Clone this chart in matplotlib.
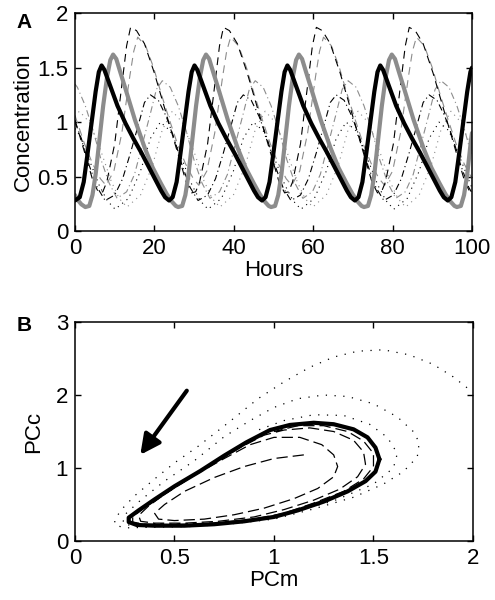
import matplotlib
matplotlib.use('Agg')
import matplotlib.pyplot as plt

plt.rcParams['font.family'] = ['Liberation Sans', 'DejaVu Sans']

# ---------------- Panel A: time courses ----------------
# thick black curve
t_black = [0, 1.2, 2.2, 3.2, 4.2, 5.2, 6.0, 6.7, 7.4, 8.2, 9.2, 10.7, 12.7, 14.7, 16.7, 18.7, 20.7, 21.7, 22.7, 23.7,
           24.6, 25.6, 26.6, 27.6, 28.6, 29.4, 30.1, 30.8, 31.6, 32.6, 34.1, 36.1, 38.1, 40.1, 42.1, 44.1, 45.1, 46.1, 47.1,
           48.0, 49.0, 50.0, 51.0, 52.0, 52.8, 53.5, 54.2, 55.0, 56.0, 57.5, 59.5, 61.5, 63.5, 65.5, 67.5, 68.5, 69.5, 70.5,
           71.4, 72.4, 73.4, 74.4, 75.4, 76.2, 76.9, 77.6, 78.4, 79.4, 80.9, 82.9, 84.9, 86.9, 88.9, 90.9, 91.9, 92.9, 93.9,
           94.8, 95.8, 96.8, 97.8, 98.8, 99.6, 100]
c_black = [0.28, 0.31, 0.45, 0.72, 1.0, 1.28, 1.46, 1.52, 1.48, 1.4, 1.3, 1.15, 0.99, 0.85, 0.72, 0.58, 0.44, 0.37, 0.31, 0.28,
           0.31, 0.45, 0.72, 1.0, 1.28, 1.46, 1.52, 1.48, 1.4, 1.3, 1.15, 0.99, 0.85, 0.72, 0.58, 0.44, 0.37, 0.31, 0.28,
           0.31, 0.45, 0.72, 1.0, 1.28, 1.46, 1.52, 1.48, 1.4, 1.3, 1.15, 0.99, 0.85, 0.72, 0.58, 0.44, 0.37, 0.31, 0.28,
           0.31, 0.45, 0.72, 1.0, 1.28, 1.46, 1.52, 1.48, 1.4, 1.3, 1.15, 0.99, 0.85, 0.72, 0.58, 0.44, 0.37, 0.31, 0.28,
           0.31, 0.45, 0.72, 1.0, 1.28, 1.46, 1.5]

# thick gray curve
t_gray = [0, 0.8, 1.6, 2.6, 3.6, 4.4, 5.2, 6.1, 7.1, 8.1, 8.9, 9.6, 10.4, 11.4, 12.6, 15.1, 17.6, 19.6, 21.6, 23.1, 24.4, 25.4,
          26.0, 27.0, 27.8, 28.6, 29.5, 30.5, 31.5, 32.3, 33.0, 33.8, 34.8, 36.0, 38.5, 41.0, 43.0, 45.0, 46.5, 47.8, 48.8,
          49.4, 50.4, 51.2, 52.0, 52.9, 53.9, 54.9, 55.7, 56.4, 57.2, 58.2, 59.4, 61.9, 64.4, 66.4, 68.4, 69.9, 71.2, 72.2,
          72.8, 73.8, 74.6, 75.4, 76.3, 77.3, 78.3, 79.1, 79.8, 80.6, 81.6, 82.8, 85.3, 87.8, 89.8, 91.8, 93.3, 94.6, 95.6,
          96.2, 97.2, 98.0, 98.8, 99.7, 100]
c_gray = [0.33, 0.28, 0.245, 0.22, 0.23, 0.33, 0.52, 0.82, 1.15, 1.42, 1.57, 1.62, 1.58, 1.46, 1.32, 1.02, 0.76, 0.58, 0.44, 0.34, 0.27, 0.23,
          0.22, 0.23, 0.33, 0.52, 0.82, 1.15, 1.42, 1.57, 1.62, 1.58, 1.46, 1.32, 1.02, 0.76, 0.58, 0.44, 0.34, 0.27, 0.23,
          0.22, 0.23, 0.33, 0.52, 0.82, 1.15, 1.42, 1.57, 1.62, 1.58, 1.46, 1.32, 1.02, 0.76, 0.58, 0.44, 0.34, 0.27, 0.23,
          0.22, 0.23, 0.33, 0.52, 0.82, 1.15, 1.42, 1.57, 1.62, 1.58, 1.46, 1.32, 1.02, 0.76, 0.58, 0.44, 0.34, 0.27, 0.23,
          0.22, 0.23, 0.33, 0.52, 0.82, 0.9]

# thin black dashed (highest peaks)
t_k1 = [0, 2.6, 4.6, 6.0, 7.0, 8.0, 10.0, 12.0, 13.0, 14.0, 15.5, 17.5, 20.0, 22.0, 24.0, 26.0, 28.0,
        29.4, 30.4, 31.4, 33.4, 35.4, 36.4, 37.4, 38.9, 40.9, 43.4, 45.4, 47.4, 49.4, 51.4,
        52.8, 53.8, 54.8, 56.8, 58.8, 59.8, 60.8, 62.3, 64.3, 66.8, 68.8, 70.8, 72.8, 74.8,
        76.2, 77.2, 78.2, 80.2, 82.2, 83.2, 84.2, 85.7, 87.7, 90.2, 92.2, 94.2, 96.2, 98.2, 99.6, 100]
c_k1 = [1.02, 0.7, 0.45, 0.35, 0.36, 0.45, 0.8, 1.4, 1.7, 1.87, 1.84, 1.72, 1.45, 1.2, 0.95, 0.7, 0.45,
        0.35, 0.36, 0.45, 0.8, 1.4, 1.7, 1.87, 1.84, 1.72, 1.45, 1.2, 0.95, 0.7, 0.45,
        0.35, 0.36, 0.45, 0.8, 1.4, 1.7, 1.87, 1.84, 1.72, 1.45, 1.2, 0.95, 0.7, 0.45,
        0.35, 0.36, 0.45, 0.8, 1.4, 1.7, 1.87, 1.84, 1.72, 1.45, 1.2, 0.95, 0.7, 0.45, 0.35, 0.35]

# thin gray dashed
t_g1 = [0, 2.4, 4.4, 6.4, 7.8, 9.8, 11.8, 13.8, 14.8, 15.8, 17.8, 19.8, 21.8, 23.8, 25.8, 27.8, 29.8,
        31.2, 33.2, 35.2, 37.2, 38.2, 39.2, 41.2, 43.2, 45.2, 47.2, 49.2, 51.2, 53.2,
        54.6, 56.6, 58.6, 60.6, 61.6, 62.6, 64.6, 66.6, 68.6, 70.6, 72.6, 74.6, 76.6,
        78.0, 80.0, 82.0, 84.0, 85.0, 86.0, 88.0, 90.0, 92.0, 94.0, 96.0, 98.0, 100]
c_g1 = [1.06, 0.8, 0.62, 0.48, 0.42, 0.55, 0.9, 1.42, 1.65, 1.78, 1.7, 1.5, 1.25, 1.02, 0.8, 0.62, 0.48,
        0.42, 0.55, 0.9, 1.42, 1.65, 1.78, 1.7, 1.5, 1.25, 1.02, 0.8, 0.62, 0.48,
        0.42, 0.55, 0.9, 1.42, 1.65, 1.78, 1.7, 1.5, 1.25, 1.02, 0.8, 0.62, 0.48,
        0.42, 0.55, 0.9, 1.42, 1.65, 1.78, 1.7, 1.5, 1.25, 1.02, 0.8, 0.62, 0.48]

# thin black dash-dot
t_k2 = [0, 1.6, 3.6, 5.6, 7.6, 10, 12, 14, 16, 17.5, 19.0, 21, 23, 25, 27, 29, 31,
        33.4, 35.4, 37.4, 39.4, 40.9, 42.4, 44.4, 46.4, 48.4, 50.4, 52.4, 54.4,
        56.8, 58.8, 60.8, 62.8, 64.3, 65.8, 67.8, 69.8, 71.8, 73.8, 75.8, 77.8,
        80.2, 82.2, 84.2, 86.2, 87.7, 89.2, 91.2, 93.2, 95.2, 97.2, 99.2, 100]
c_k2 = [1.0, 0.85, 0.6, 0.4, 0.28, 0.33, 0.48, 0.72, 0.98, 1.18, 1.25, 1.2, 1.05, 0.85, 0.6, 0.4, 0.28,
        0.33, 0.48, 0.72, 0.98, 1.18, 1.25, 1.2, 1.05, 0.85, 0.6, 0.4, 0.28,
        0.33, 0.48, 0.72, 0.98, 1.18, 1.25, 1.2, 1.05, 0.85, 0.6, 0.4, 0.28,
        0.33, 0.48, 0.72, 0.98, 1.18, 1.25, 1.2, 1.05, 0.85, 0.6, 0.4, 0.35]

# thin gray dash-dot
t_g2 = [0, 0.6, 2.6, 4.6, 6.6, 8.6, 10.6, 13, 15, 17, 19, 20.5, 22, 24, 26, 28, 30, 32, 34,
        36.4, 38.4, 40.4, 42.4, 43.9, 45.4, 47.4, 49.4, 51.4, 53.4, 55.4, 57.4,
        59.8, 61.8, 63.8, 65.8, 67.3, 68.8, 70.8, 72.8, 74.8, 76.8, 78.8, 80.8,
        83.2, 85.2, 87.2, 89.2, 90.7, 92.2, 94.2, 96.2, 98.2, 100]
c_g2 = [1.35, 1.32, 1.15, 0.92, 0.65, 0.44, 0.3, 0.36, 0.52, 0.8, 1.08, 1.3, 1.38, 1.32, 1.15, 0.92, 0.65, 0.44, 0.3,
        0.36, 0.52, 0.8, 1.08, 1.3, 1.38, 1.32, 1.15, 0.92, 0.65, 0.44, 0.3,
        0.36, 0.52, 0.8, 1.08, 1.3, 1.38, 1.32, 1.15, 0.92, 0.65, 0.44, 0.3,
        0.36, 0.52, 0.8, 1.08, 1.3, 1.38, 1.32, 1.15, 0.92, 0.68]

# thin black dotted
t_k3 = [0, 0.6, 3.1, 6.1, 8.1, 10.1, 13.5, 16.5, 19, 21.5, 24, 26.5, 29.5, 31.5, 33.5,
        36.9, 39.9, 42.4, 44.9, 47.4, 49.9, 52.9, 54.9, 56.9,
        60.3, 63.3, 65.8, 68.3, 70.8, 73.3, 76.3, 78.3, 80.3,
        83.7, 86.7, 89.2, 91.7, 94.2, 96.7, 99.7, 100]
c_k3 = [0.94, 0.92, 0.7, 0.42, 0.28, 0.2, 0.3, 0.55, 0.85, 1.0, 0.92, 0.7, 0.42, 0.28, 0.2,
        0.3, 0.55, 0.85, 1.0, 0.92, 0.7, 0.42, 0.28, 0.2,
        0.3, 0.55, 0.85, 1.0, 0.92, 0.7, 0.42, 0.28, 0.2,
        0.3, 0.55, 0.85, 1.0, 0.92, 0.7, 0.42, 0.4]

# thin gray dotted
t_g3 = [0, 1.1, 3.6, 6.1, 9.1, 11.1, 13.1, 16.5, 19.5, 22, 24.5, 27, 29.5, 32.5, 34.5, 36.5,
        39.9, 42.9, 45.4, 47.9, 50.4, 52.9, 55.9, 57.9, 59.9,
        63.3, 66.3, 68.8, 71.3, 73.8, 76.3, 79.3, 81.3, 83.3,
        86.7, 89.7, 92.2, 94.7, 97.2, 99.7, 100]
c_g3 = [1.05, 1.1, 1.0, 0.78, 0.46, 0.3, 0.22, 0.33, 0.6, 0.93, 1.1, 1.0, 0.78, 0.46, 0.3, 0.22,
        0.33, 0.6, 0.93, 1.1, 1.0, 0.78, 0.46, 0.3, 0.22,
        0.33, 0.6, 0.93, 1.1, 1.0, 0.78, 0.46, 0.3, 0.22,
        0.33, 0.6, 0.93, 1.1, 1.0, 0.78, 0.76]

# ---------------- Panel B: phase plane PCm vs PCc ----------------
# limit cycle (thick)
lc_x = [1.53, 1.51, 1.47, 1.40, 1.30, 1.20, 1.08, 0.98, 0.86, 0.75, 0.63, 0.50, 0.40, 0.32, 0.27, 0.27, 0.31, 0.40,
        0.55, 0.70, 0.85, 1.00, 1.12, 1.25, 1.37, 1.46, 1.51, 1.53]
lc_y = [1.12, 1.28, 1.42, 1.53, 1.60, 1.62, 1.59, 1.52, 1.35, 1.17, 0.96, 0.75, 0.57, 0.42, 0.32, 0.26, 0.22, 0.21,
        0.21, 0.23, 0.27, 0.33, 0.42, 0.54, 0.68, 0.82, 0.95, 1.12]

# trajectory starting outside (dotted)
out_x = [1.97, 1.90, 1.80, 1.68, 1.55, 1.42, 1.30, 1.18, 1.05, 0.92, 0.77, 0.62, 0.50, 0.40, 0.30, 0.24, 0.20, 0.20,
         0.25, 0.40, 0.60, 0.80, 1.00, 1.20, 1.40, 1.55, 1.65, 1.72, 1.73, 1.70, 1.62, 1.50, 1.37, 1.25, 1.12, 1.00,
         0.88, 0.75, 0.60, 0.45, 0.33, 0.25, 0.24, 0.30, 0.50, 0.75, 1.00, 1.30, 1.50, 1.60, 1.62, 1.57, 1.48, 1.35,
         1.20, 1.05, 0.92]
out_y = [2.10, 2.25, 2.42, 2.55, 2.62, 2.60, 2.52, 2.38, 2.18, 1.95, 1.62, 1.30, 1.07, 0.85, 0.62, 0.45, 0.30, 0.22,
         0.18, 0.19, 0.20, 0.24, 0.30, 0.44, 0.60, 0.78, 0.95, 1.15, 1.35, 1.50, 1.70, 1.88, 1.98, 2.00, 1.95, 1.83,
         1.65, 1.43, 1.10, 0.82, 0.56, 0.36, 0.24, 0.20, 0.20, 0.24, 0.32, 0.55, 0.78, 1.00, 1.20, 1.42, 1.60, 1.72,
         1.73, 1.65, 1.52]

# trajectory starting inside (dashed)
in_x = [1.15, 1.00, 0.85, 0.70, 0.55, 0.45, 0.40, 0.42, 0.50, 0.65, 0.80, 0.95, 1.10, 1.22, 1.30, 1.32, 1.30, 1.24,
        1.13, 1.00, 0.88, 0.75, 0.60, 0.47, 0.37, 0.32, 0.33, 0.40, 0.55, 0.72, 0.90, 1.05, 1.20, 1.33, 1.42, 1.46,
        1.45, 1.40, 1.30, 1.18, 1.05, 0.95, 0.83, 0.70, 0.57, 0.45, 0.35, 0.29, 0.29, 0.35, 0.50, 0.70, 0.90, 1.05,
        1.20, 1.35, 1.45, 1.50, 1.50, 1.45, 1.37, 1.25, 1.12, 1.00]
in_y = [1.18, 1.13, 1.02, 0.87, 0.68, 0.50, 0.38, 0.30, 0.28, 0.30, 0.36, 0.45, 0.58, 0.72, 0.88, 1.02, 1.18, 1.32,
        1.42, 1.42, 1.32, 1.13, 0.90, 0.68, 0.48, 0.35, 0.27, 0.245, 0.245, 0.27, 0.33, 0.43, 0.56, 0.71, 0.88, 1.05,
        1.22, 1.38, 1.50, 1.55, 1.52, 1.45, 1.28, 1.07, 0.85, 0.64, 0.46, 0.33, 0.26, 0.23, 0.225, 0.245, 0.30, 0.38,
        0.52, 0.68, 0.85, 1.02, 1.20, 1.37, 1.50, 1.58, 1.58, 1.50]

GRAY = '#8c8c8c'
FS = 16

fig = plt.figure(figsize=(4.95, 6.0), dpi=100)

# Panel A
axA = fig.add_axes([0.1515, 0.615, 0.802, 0.363])
axA.plot(t_g3, c_g3, color=GRAY, lw=0.8, linestyle=(0, (1, 4)))
axA.plot(t_k3, c_k3, color='k', lw=0.8, linestyle=(0, (1, 4)))
axA.plot(t_g2, c_g2, color=GRAY, lw=0.8, linestyle=(0, (6, 3, 1, 3)))
axA.plot(t_k2, c_k2, color='k', lw=0.8, linestyle=(0, (6, 3, 1, 3)))
axA.plot(t_g1, c_g1, color=GRAY, lw=0.8, linestyle=(0, (7, 5)))
axA.plot(t_k1, c_k1, color='k', lw=0.8, linestyle=(0, (7, 5)))
axA.plot(t_gray, c_gray, color=GRAY, lw=3.0, solid_capstyle='round')
axA.plot(t_black, c_black, color='k', lw=3.0, solid_capstyle='round')
axA.set_xlim(0, 100)
axA.set_ylim(0, 2)
axA.set_xticks([0, 20, 40, 60, 80, 100])
axA.set_yticks([0, 0.5, 1, 1.5, 2])
axA.set_yticklabels(['0', '0.5', '1', '1.5', '2'])
axA.set_xlabel('Hours', fontsize=FS, labelpad=1)
axA.set_ylabel('Concentration', fontsize=FS, labelpad=2)
fig.text(0.033, 0.963, 'A', fontsize=15, fontweight='bold', va='center')

# Panel B
axB = fig.add_axes([0.1515, 0.0983, 0.804, 0.365])
axB.plot(out_x, out_y, color='k', lw=0.9, linestyle=(0, (1, 6)))
axB.plot(in_x, in_y, color='k', lw=0.9, linestyle=(0, (9, 4)))
axB.plot(lc_x, lc_y, color='k', lw=3.0, solid_capstyle='round')
axB.annotate('', xy=(0.32, 1.15), xytext=(0.57, 2.09),
             arrowprops=dict(arrowstyle='-|>', lw=3.0, color='k', mutation_scale=30))
axB.set_xlim(0, 2)
axB.set_ylim(0, 3)
axB.set_xticks([0, 0.5, 1, 1.5, 2])
axB.set_xticklabels(['0', '0.5', '1', '1.5', '2'])
axB.set_yticks([0, 1, 2, 3])
axB.set_xlabel('PCm', fontsize=FS, labelpad=1)
axB.set_ylabel('PCc', fontsize=FS, labelpad=8)
fig.text(0.033, 0.458, 'B', fontsize=15, fontweight='bold', va='center')

for ax in (axA, axB):
    ax.tick_params(direction='in', length=4, width=1, top=True, right=True, labelsize=FS, pad=5)
    for s in ax.spines.values():
        s.set_linewidth(1.1)

fig.savefig('out.png', dpi=100)
